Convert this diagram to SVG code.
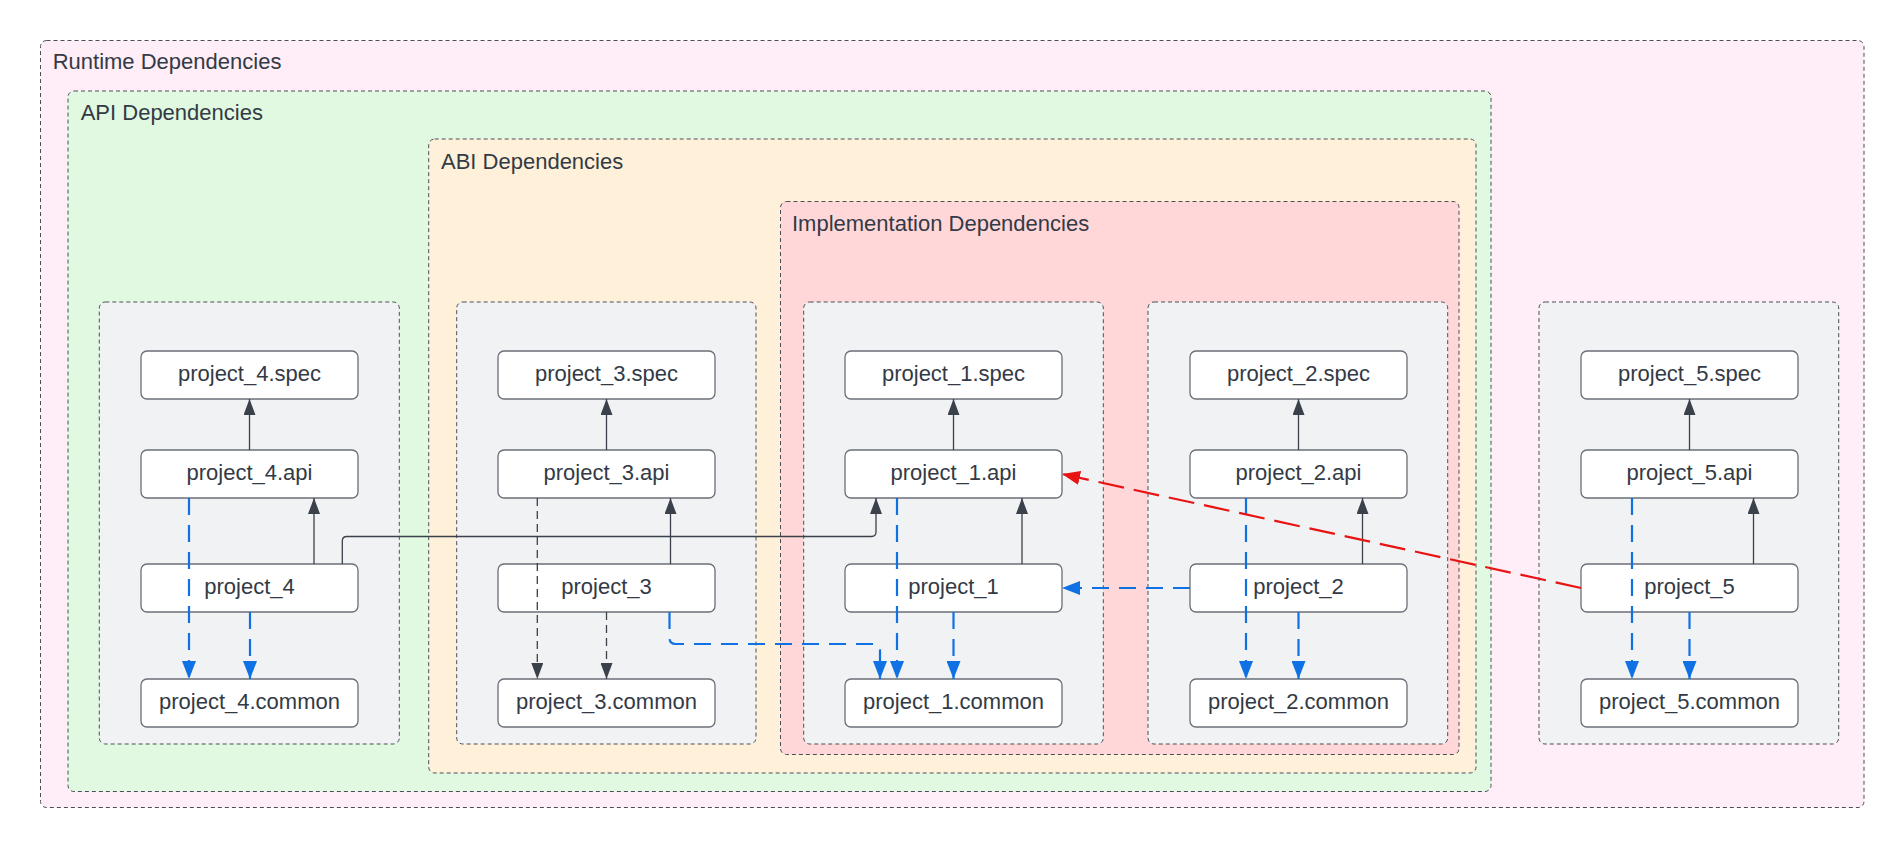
<svg xmlns="http://www.w3.org/2000/svg" width="1904" height="848" viewBox="0 0 1904 848">
<style>
text{font-family:"Liberation Sans",Arial,sans-serif;font-size:22px;fill:#333a45}
.ctr{text-anchor:middle}
.grp{stroke:#4a4f57;stroke-width:1;stroke-dasharray:4 3}
.node{fill:#ffffff;stroke:#6b6f77;stroke-width:1.3}
.solid{fill:none;stroke:#3a414a;stroke-width:1.3}
.gdash{fill:none;stroke:#3a414a;stroke-width:1.3;stroke-dasharray:8 5}
.blue{fill:none;stroke:#1071e5;stroke-width:2.2;stroke-dasharray:17 10}
.red{fill:none;stroke:#e81313;stroke-width:2.2;stroke-dasharray:26 10}
</style>
<defs>
<marker id="ag" markerUnits="userSpaceOnUse" markerWidth="16" markerHeight="12" refX="16" refY="6" orient="auto"><path d="M0,0 L16,6 L0,12 z" fill="#3a414a"/></marker>
<marker id="ab" markerUnits="userSpaceOnUse" markerWidth="18" markerHeight="14" refX="18" refY="7" orient="auto"><path d="M0,0 L18,7 L0,14 z" fill="#1071e5"/></marker>
<marker id="ar" markerUnits="userSpaceOnUse" markerWidth="18" markerHeight="14" refX="18" refY="7" orient="auto"><path d="M0,0 L18,7 L0,14 z" fill="#e81313"/></marker>
</defs>
<rect width="1904" height="848" fill="#ffffff"/>
<g id="runtime">
<rect class="grp" x="40.5" y="40.5" width="1823.5" height="767" rx="6" fill="#ffedf8"/>
<text x="52.7" y="69.3">Runtime Dependencies</text>
</g>
<g id="api">
<rect class="grp" x="68" y="91" width="1423" height="700.5" rx="6" fill="#e1f9e1"/>
<text x="80.7" y="120">API Dependencies</text>
</g>
<g id="abi">
<rect class="grp" x="428.7" y="139" width="1047.3" height="634" rx="6" fill="#fff1d9"/>
<text x="441" y="169">ABI Dependencies</text>
</g>
<g id="impl">
<rect class="grp" x="780.5" y="201.5" width="678.5" height="553" rx="6" fill="#ffd7d9"/>
<text x="792" y="230.7">Implementation Dependencies</text>
</g>
<g id="project4-group"><rect class="grp" x="99.3" y="302" width="300" height="442" rx="6" fill="#f1f2f4"/></g>
<g id="project3-group"><rect class="grp" x="456.7" y="302" width="299.3" height="442" rx="6" fill="#f1f2f4"/></g>
<g id="project1-group"><rect class="grp" x="803.7" y="302" width="299.6" height="442" rx="6" fill="#f1f2f4"/></g>
<g id="project2-group"><rect class="grp" x="1148" y="302" width="299.7" height="442" rx="6" fill="#f1f2f4"/></g>
<g id="project5-group"><rect class="grp" x="1539" y="302" width="299.7" height="442" rx="6" fill="#f1f2f4"/></g>

<g id="project_4.spec"><rect class="node" x="141" y="351" width="217" height="48" rx="6"/><text class="ctr" x="249.5" y="381">project_4.spec</text></g>
<g id="project_4.api"><rect class="node" x="141" y="450" width="217" height="48" rx="6"/><text class="ctr" x="249.5" y="480">project_4.api</text></g>
<g id="project_4"><rect class="node" x="141" y="564" width="217" height="48" rx="6"/><text class="ctr" x="249.5" y="594">project_4</text></g>
<g id="project_4.common"><rect class="node" x="141" y="679" width="217" height="48" rx="6"/><text class="ctr" x="249.5" y="709">project_4.common</text></g>

<g id="project_3.spec"><rect class="node" x="498" y="351" width="217" height="48" rx="6"/><text class="ctr" x="606.5" y="381">project_3.spec</text></g>
<g id="project_3.api"><rect class="node" x="498" y="450" width="217" height="48" rx="6"/><text class="ctr" x="606.5" y="480">project_3.api</text></g>
<g id="project_3"><rect class="node" x="498" y="564" width="217" height="48" rx="6"/><text class="ctr" x="606.5" y="594">project_3</text></g>
<g id="project_3.common"><rect class="node" x="498" y="679" width="217" height="48" rx="6"/><text class="ctr" x="606.5" y="709">project_3.common</text></g>

<g id="project_1.spec"><rect class="node" x="845" y="351" width="217" height="48" rx="6"/><text class="ctr" x="953.5" y="381">project_1.spec</text></g>
<g id="project_1.api"><rect class="node" x="845" y="450" width="217" height="48" rx="6"/><text class="ctr" x="953.5" y="480">project_1.api</text></g>
<g id="project_1"><rect class="node" x="845" y="564" width="217" height="48" rx="6"/><text class="ctr" x="953.5" y="594">project_1</text></g>
<g id="project_1.common"><rect class="node" x="845" y="679" width="217" height="48" rx="6"/><text class="ctr" x="953.5" y="709">project_1.common</text></g>

<g id="project_2.spec"><rect class="node" x="1190" y="351" width="217" height="48" rx="6"/><text class="ctr" x="1298.5" y="381">project_2.spec</text></g>
<g id="project_2.api"><rect class="node" x="1190" y="450" width="217" height="48" rx="6"/><text class="ctr" x="1298.5" y="480">project_2.api</text></g>
<g id="project_2"><rect class="node" x="1190" y="564" width="217" height="48" rx="6"/><text class="ctr" x="1298.5" y="594">project_2</text></g>
<g id="project_2.common"><rect class="node" x="1190" y="679" width="217" height="48" rx="6"/><text class="ctr" x="1298.5" y="709">project_2.common</text></g>

<g id="project_5.spec"><rect class="node" x="1581" y="351" width="217" height="48" rx="6"/><text class="ctr" x="1689.5" y="381">project_5.spec</text></g>
<g id="project_5.api"><rect class="node" x="1581" y="450" width="217" height="48" rx="6"/><text class="ctr" x="1689.5" y="480">project_5.api</text></g>
<g id="project_5"><rect class="node" x="1581" y="564" width="217" height="48" rx="6"/><text class="ctr" x="1689.5" y="594">project_5</text></g>
<g id="project_5.common"><rect class="node" x="1581" y="679" width="217" height="48" rx="6"/><text class="ctr" x="1689.5" y="709">project_5.common</text></g>

<g id="connectors">
<path class="solid" marker-end="url(#ag)" d="M249.5,450 V399"/>
<path class="solid" marker-end="url(#ag)" d="M314,564 V498"/>
<path class="solid" marker-end="url(#ag)" d="M606.5,450 V399"/>
<path class="solid" marker-end="url(#ag)" d="M670.5,564 V498"/>
<path class="solid" marker-end="url(#ag)" d="M953.5,450 V399"/>
<path class="solid" marker-end="url(#ag)" d="M1022,564 V498"/>
<path class="solid" marker-end="url(#ag)" d="M1298.5,450 V399"/>
<path class="solid" marker-end="url(#ag)" d="M1362.5,564 V498"/>
<path class="solid" marker-end="url(#ag)" d="M1689.5,450 V399"/>
<path class="solid" marker-end="url(#ag)" d="M1753.5,564 V498"/>
<path class="solid" marker-end="url(#ag)" d="M342.3,564 V541 Q342.3,536.5 346.8,536.5 H871.5 Q876,536.5 876,532 V498"/>
<path class="gdash" marker-end="url(#ag)" d="M537.3,498 V679"/>
<path class="gdash" marker-end="url(#ag)" d="M606.5,612 V679"/>
<path class="blue" marker-end="url(#ab)" d="M189,498 V679"/>
<path class="blue" marker-end="url(#ab)" d="M250,612 V679"/>
<path class="blue" marker-end="url(#ab)" d="M669.5,612 V638 Q669.5,644 675.5,644 H874 Q880,644 880,650 V679"/>
<path class="blue" marker-end="url(#ab)" d="M897,498 V679"/>
<path class="blue" marker-end="url(#ab)" d="M953.5,612 V679"/>
<path class="blue" marker-end="url(#ab)" d="M1190,588 H1062"/>
<path class="blue" marker-end="url(#ab)" d="M1246,498 V679"/>
<path class="blue" marker-end="url(#ab)" d="M1298.5,612 V679"/>
<path class="blue" marker-end="url(#ab)" d="M1632,498 V679"/>
<path class="blue" marker-end="url(#ab)" d="M1689.5,612 V679"/>
<path class="red" marker-end="url(#ar)" d="M1581,588 L1062,474"/>
</g>
</svg>
